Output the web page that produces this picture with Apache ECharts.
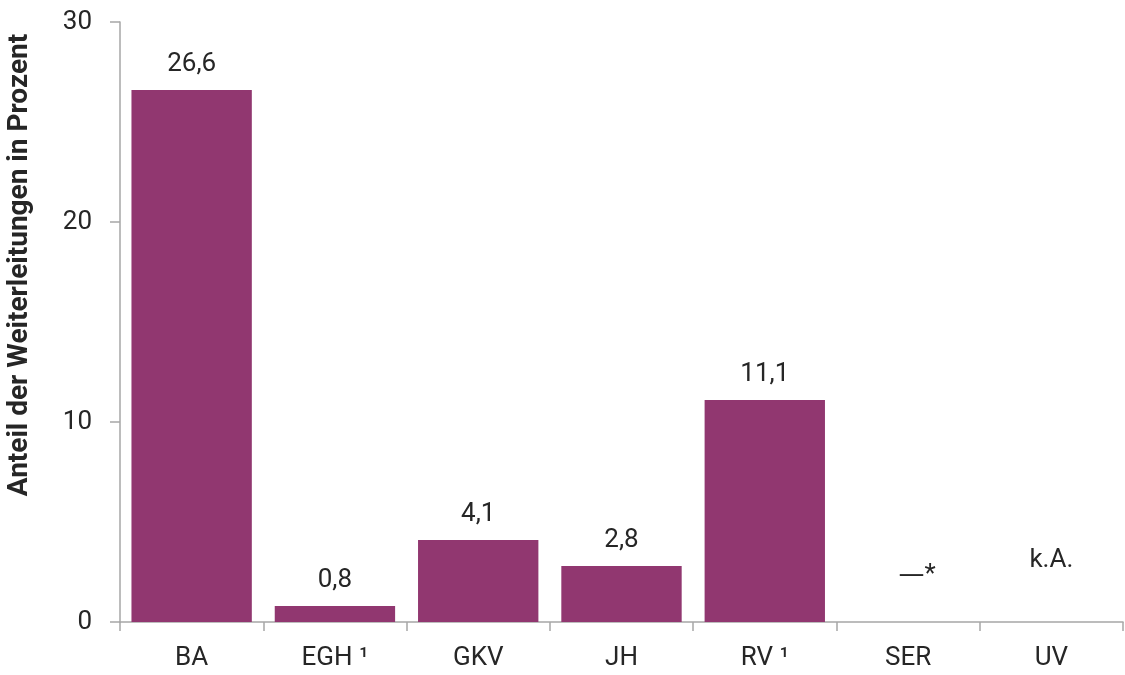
<!DOCTYPE html>
<html>
<head>
<meta charset="utf-8">
<script src="https://cdn.jsdelivr.net/npm/echarts@6/dist/echarts.min.js"></script>
<style>
html,body{margin:0;padding:0;background:#fff;}
#chart{width:1125px;height:675px;}
</style>
</head>
<body>
<div id="chart"></div>
<script>
const categories = ['BA', 'EGH \u00B9', 'GKV', 'JH', 'RV \u00B9', 'SER', 'UV'];
const values = [26.6, 0.8, 4.1, 2.8, 11.1, null, null];
const notes = [null, null, null, null, null, '\u2014*', 'k.A.'];
const yTicks = { min: 0, max: 30, interval: 10 };
const yTitle = 'Anteil der Weiterleitungen in Prozent';

const BAR = '#913770';
const AXIS = '#a6a6a6';
const TEXT = '#262626';
const FONT = 'Roboto';
const FS = 26;

const fmt = v => String(v).replace('.', ',');

const seriesData = values.map((v, i) => {
  if (v === null) {
    const isDash = notes[i] === '\u2014*';
    return {
      value: 0,
      itemStyle: { color: 'rgba(0,0,0,0)' },
      label: {
        show: true,
        position: 'top',
        formatter: isDash ? '{d|\u2014}{s|*}' : notes[i],
        offset: isDash ? [9, -21] : [0, -36],
        rich: {
          d: { fontSize: FS, fontFamily: 'DejaVu Sans', color: TEXT },
          s: { fontSize: FS, fontFamily: FONT, color: TEXT }
        }
      }
    };
  }
  return { value: v };
});

const chart = echarts.init(document.getElementById('chart'), null, { renderer: 'canvas' });
chart.setOption({
  animation: false,
  backgroundColor: '#fff',
  textStyle: { fontFamily: FONT, color: TEXT },
  grid: { left: 120, right: 2, top: 22, bottom: 53, containLabel: false },
  graphic: [{
    type: 'text',
    rotation: Math.PI / 2,
    x: 20, y: 265,
    style: {
      text: yTitle,
      font: 'bold 28px Roboto',
      fill: TEXT,
      textAlign: 'center',
      textVerticalAlign: 'middle'
    }
  }],
  xAxis: {
    type: 'category',
    data: categories,
    axisLine: { lineStyle: { color: AXIS, width: 1.5 } },
    axisTick: { show: true, length: 9, lineStyle: { color: AXIS, width: 1.5 } },
    axisLabel: { color: TEXT, fontSize: FS, fontFamily: FONT, margin: 23 }
  },
  yAxis: {
    type: 'value',
    min: yTicks.min,
    max: yTicks.max,
    interval: yTicks.interval,
    axisLine: { show: true, lineStyle: { color: AXIS, width: 1.5 } },
    axisTick: { show: true, length: 10, lineStyle: { color: AXIS, width: 1.5 } },
    splitLine: { show: false },
    axisLabel: { color: TEXT, fontSize: FS, fontFamily: FONT, margin: 28 }
  },
  series: [{
    type: 'bar',
    data: seriesData,
    barCategoryGap: '16%',
    itemStyle: { color: BAR },
    label: {
      show: true,
      position: 'top',
      distance: 13,
      color: TEXT,
      fontSize: FS,
      fontFamily: FONT,
      formatter: p => fmt(p.value)
    }
  }]
});
</script>
</body>
</html>
